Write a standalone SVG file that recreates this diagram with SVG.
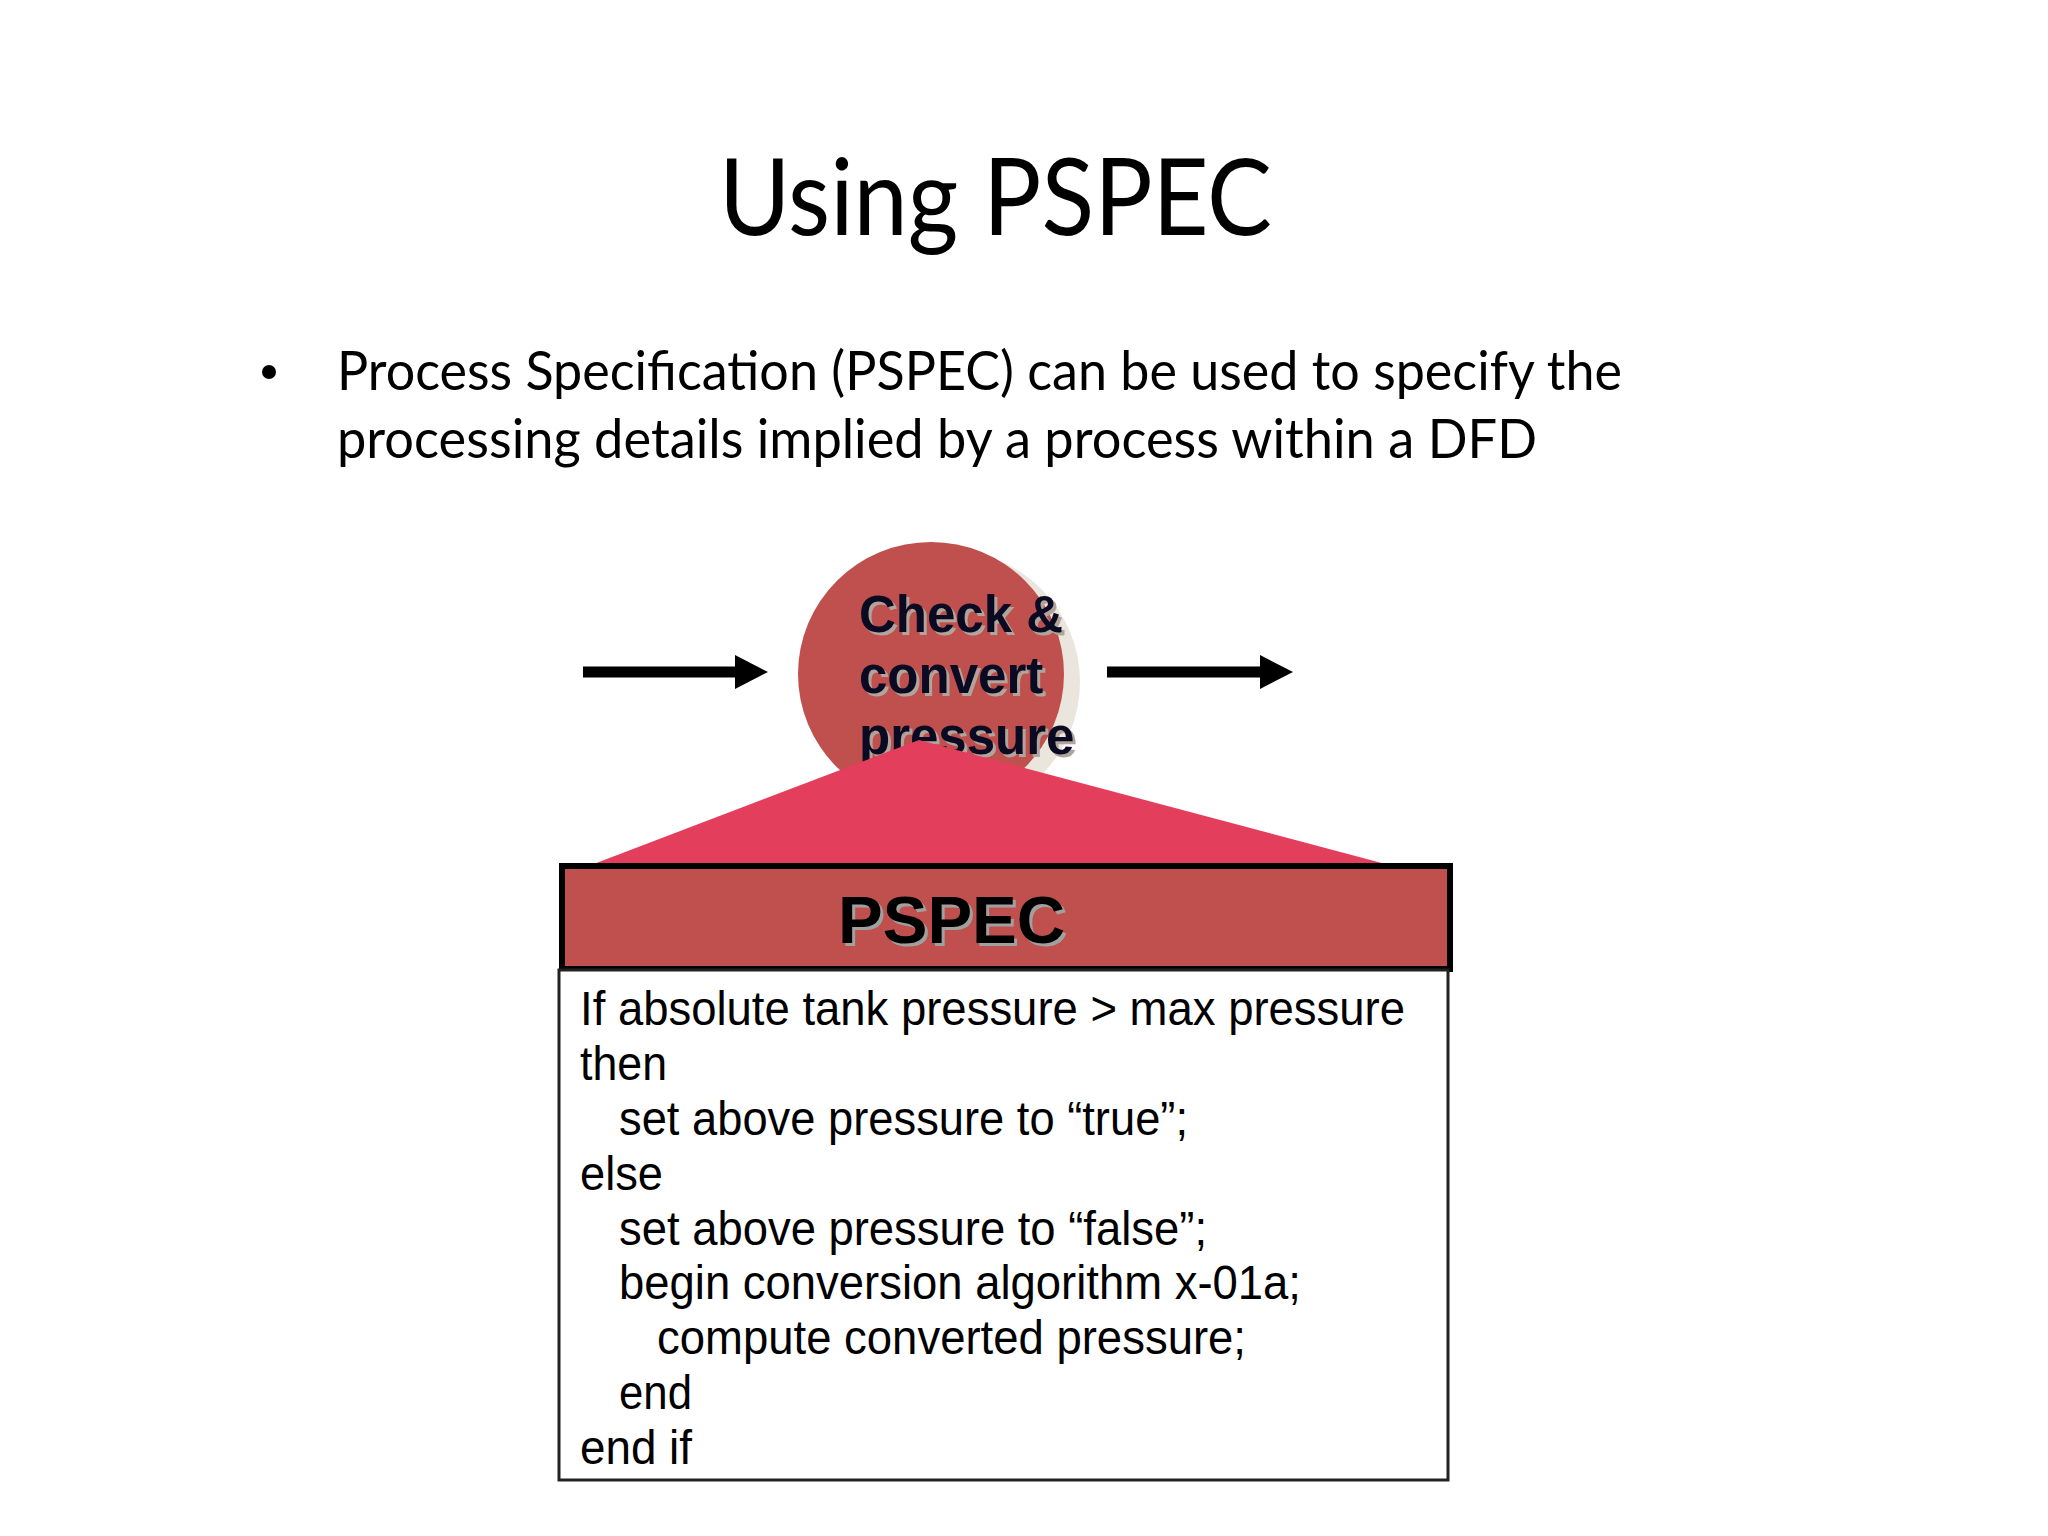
<svg xmlns="http://www.w3.org/2000/svg" width="2048" height="1536" viewBox="0 0 2048 1536">
  <style>
    .title { font-family: Lato, "Open Sans", sans-serif; font-size: 106px; fill: #000; }
    .bullet { font-family: Lato, "Open Sans", sans-serif; font-size: 54px; fill: #000; }
    .bubble { font-family: "Liberation Sans", Arial, sans-serif; font-weight: bold; font-size: 51px; fill: #0a0a22; }
    .bubble-sh { font-family: "Liberation Sans", Arial, sans-serif; font-weight: bold; font-size: 51px; fill: #b0a49c; }
    .hdr { font-family: "Liberation Sans", Arial, sans-serif; font-weight: bold; font-size: 67px; fill: #000; }
    .hdr-sh { font-family: "Liberation Sans", Arial, sans-serif; font-weight: bold; font-size: 67px; fill: #a0a0a0; }
    .code { font-family: "Liberation Sans", Arial, sans-serif; font-size: 48px; fill: #000; }
    .flow { stroke: #000; stroke-width: 11; fill: none; }
  </style>
  <defs>
    <marker id="ah" markerUnits="userSpaceOnUse" markerWidth="34" markerHeight="34" refX="5" refY="17" orient="auto">
      <path d="M0,0 L33,17 L0,34 Z" fill="#000"/>
    </marker>
  </defs>
  <rect width="2048" height="1536" fill="#fff"/>

  <text class="title" x="719" y="235" textLength="553" lengthAdjust="spacingAndGlyphs">Using PSPEC</text>

  <g id="bullet">
    <circle cx="269" cy="372" r="7" fill="#000"/>
    <text class="bullet" x="337" y="390" textLength="1285" lengthAdjust="spacingAndGlyphs">Process Specification (PSPEC) can be used to specify the</text>
    <text class="bullet" x="337" y="458" textLength="1200" lengthAdjust="spacingAndGlyphs">processing details implied by a process within a DFD</text>
  </g>

  <g id="connectors">
    <line class="flow" x1="583" y1="672" x2="740" y2="672" marker-end="url(#ah)"/>
    <line class="flow" x1="1107" y1="672" x2="1265" y2="672" marker-end="url(#ah)"/>
  </g>

  <g id="process">
    <ellipse cx="947" cy="682" rx="133" ry="132" fill="#ebe6dd"/>
    <ellipse cx="931" cy="674" rx="133" ry="132" fill="#c0504d"/>
    <text class="bubble-sh" x="862" y="635">Check &amp;</text>
    <text class="bubble-sh" x="862" y="696">convert</text>
    <text class="bubble-sh" x="862" y="757">pressure</text>
    <text class="bubble" x="859" y="632">Check &amp;</text>
    <text class="bubble" x="859" y="693">convert</text>
    <text class="bubble" x="859" y="754">pressure</text>
  </g>

  <g id="expansion">
    <polygon points="919,740 578,870 1408,870" fill="#e33e5c"/>
  </g>

  <g id="pspec-header">
    <rect x="562" y="866" width="888" height="103" fill="#c0504d" stroke="#000" stroke-width="6"/>
    <text class="hdr-sh" x="841" y="946">PSPEC</text>
    <text class="hdr" x="838" y="943">PSPEC</text>
  </g>

  <g id="pspec-body">
    <rect x="559" y="970" width="889" height="510" fill="#fff" stroke="#222" stroke-width="3"/>
    <text class="code" x="580" y="1025" textLength="825" lengthAdjust="spacingAndGlyphs">If absolute tank pressure &gt; max pressure</text>
    <text class="code" x="580" y="1080" textLength="87" lengthAdjust="spacingAndGlyphs">then</text>
    <text class="code" x="619" y="1135" textLength="569" lengthAdjust="spacingAndGlyphs">set above pressure to “true”;</text>
    <text class="code" x="580" y="1190" textLength="83" lengthAdjust="spacingAndGlyphs">else</text>
    <text class="code" x="619" y="1245" textLength="588" lengthAdjust="spacingAndGlyphs">set above pressure to “false”;</text>
    <text class="code" x="619" y="1299" textLength="682" lengthAdjust="spacingAndGlyphs">begin conversion algorithm x-01a;</text>
    <text class="code" x="657" y="1354" textLength="589" lengthAdjust="spacingAndGlyphs">compute converted pressure;</text>
    <text class="code" x="619" y="1409" textLength="73" lengthAdjust="spacingAndGlyphs">end</text>
    <text class="code" x="580" y="1464" textLength="112" lengthAdjust="spacingAndGlyphs">end if</text>
  </g>
</svg>
